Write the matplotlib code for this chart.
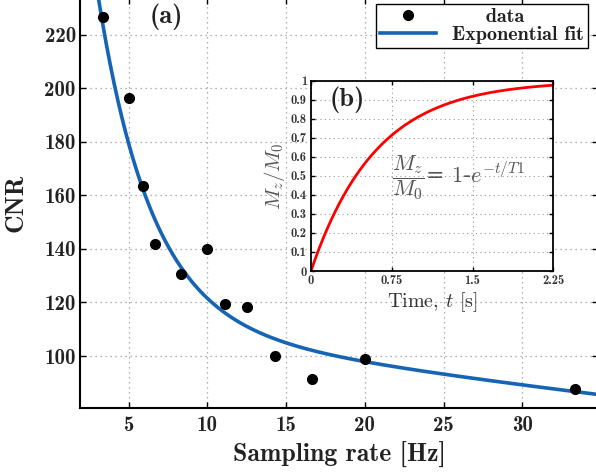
import numpy as np
import matplotlib
matplotlib.use("Agg")
import matplotlib.pyplot as plt

plt.rcParams['mathtext.fontset'] = 'cm'
plt.rcParams['axes.unicode_minus'] = False

# ---- data (main panel) ----
rate_hz = [3.33, 5.0, 5.88, 6.67, 8.33, 10.0, 11.11, 12.5, 14.29, 16.67, 20.0, 33.33]
cnr = [226.5, 196.3, 163.5, 142.0, 130.7, 140.1, 119.4, 118.4, 100.0, 91.5, 98.9, 87.7]

# exponential fit parameters (double exponential)
fit_A, fit_t1 = 300.0, 3.4
fit_B, fit_t2 = 115.0, 118.0

# inset parameter
T1 = 0.6

x_ticks = [5, 10, 15, 20, 25, 30]
y_ticks = [100, 120, 140, 160, 180, 200, 220]
inset_xticks = [0, 0.75, 1.5, 2.25]
inset_xticklabels = ["0", "0.75", "1.5", "2.25"]
inset_yticks = [0, 0.1, 0.2, 0.3, 0.4, 0.5, 0.6, 0.7, 0.8, 0.9, 1.0]
inset_yticklabels = ["0", "0.1", "0.2", "0.3", "0.4", "0.5", "0.6", "0.7", "0.8", "0.9", "1"]

W, H = 596, 473
fig = plt.figure(figsize=(W / 100, H / 100), dpi=100)

def px_axes(l, t, r, b):
    return fig.add_axes([l / W, 1 - b / H, (r - l) / W, (b - t) / H])

AXW, AXH = 518, 409.7
ax = px_axes(80, -2, 598, 407.7)
xf = np.linspace(1.9, 35, 400)
yf = fit_A * np.exp(-xf / fit_t1) + fit_B * np.exp(-xf / fit_t2)
ax.plot(rate_hz, cnr, 'o', color='black', markersize=7, label='     data', zorder=3)
ax.plot(xf, yf, '-', color='#1565b4', lw=2.6, label='Exponential fit', zorder=2)
ax.set_xlim(1.9, 34.81)
ax.set_ylim(80.7, 233.7)
ax.set_xticks(x_ticks)
ax.set_yticks(y_ticks)
ax.grid(True, linestyle=(0, (1, 3)), color='#999999', lw=0.9)
ax.tick_params(direction='in', length=4, width=1, top=True, right=True,
               labelsize=15, labelfontfamily='cmb10', colors='black', labelcolor='#222222')
ax.tick_params(axis='x', pad=6)
ax.tick_params(axis='y', pad=3)
for s in ax.spines.values():
    s.set_linewidth(1.5)
ax.set_xlabel('Sampling rate [Hz]', family='cmb10', fontsize=18.5, labelpad=5, color='#222222')
ax.set_ylabel('CNR', family='cmb10', fontsize=18.5, labelpad=12, color='#222222')
ax.text((166 - 80) / AXW, 1 - 19 / AXH, '(a)', transform=ax.transAxes,
        family='cmb10', fontsize=19, ha='center', va='center', color='#222222')
leg = ax.legend(loc='upper right', bbox_to_anchor=(1 - 9.7 / AXW, 1 - 6 / AXH),
                borderaxespad=0, prop={'family': 'cmb10', 'size': 14.5},
                handlelength=2.8, handletextpad=0.8, borderpad=0.2, labelspacing=0.0,
                fancybox=False, framealpha=1, edgecolor='black', numpoints=1)
leg.get_frame().set_linewidth(1.0)
for t in leg.get_texts():
    t.set_color('#222222')

# ---- inset ----
ai = px_axes(311, 80.7, 553.3, 271)
ai.set_facecolor('white')
t = np.linspace(0, 2.25, 300)
ai.plot(t, 1 - np.exp(-t / T1), color='red', lw=2)
ai.set_xlim(0, 2.25)
ai.set_ylim(0, 1)
ai.set_xticks(inset_xticks)
ai.set_xticklabels(inset_xticklabels)
ai.set_yticks(inset_yticks)
ai.set_yticklabels(inset_yticklabels)
ai.grid(True, linestyle=(0, (1, 3)), color='#999999', lw=0.8)
ai.tick_params(direction='in', length=3, width=1, top=True, right=True,
               labelsize=9, labelfontfamily='cmb10', pad=3, labelcolor='#333333')
for s in ai.spines.values():
    s.set_linewidth(1.3)
ai.set_xlabel(r'Time, $t$ [s]', family='cmr10', fontsize=14.5, labelpad=2, color='#333333')
ai.set_ylabel(r'$M_z/M_0$', fontsize=15, labelpad=3, color='#555555')
ai.text(0.075, 0.9, '(b)', transform=ai.transAxes, family='cmb10', fontsize=19,
        ha='left', va='center', color='#222222')
ai.text(0.333, 0.49, r'$\dfrac{M_z}{M_0}$= $\mathit{1}$-$e^{\mathit{-t/T1}}$', transform=ai.transAxes,
        fontsize=16, ha='left', va='center', color='#555555')

fig.savefig('out.png', dpi=100)
